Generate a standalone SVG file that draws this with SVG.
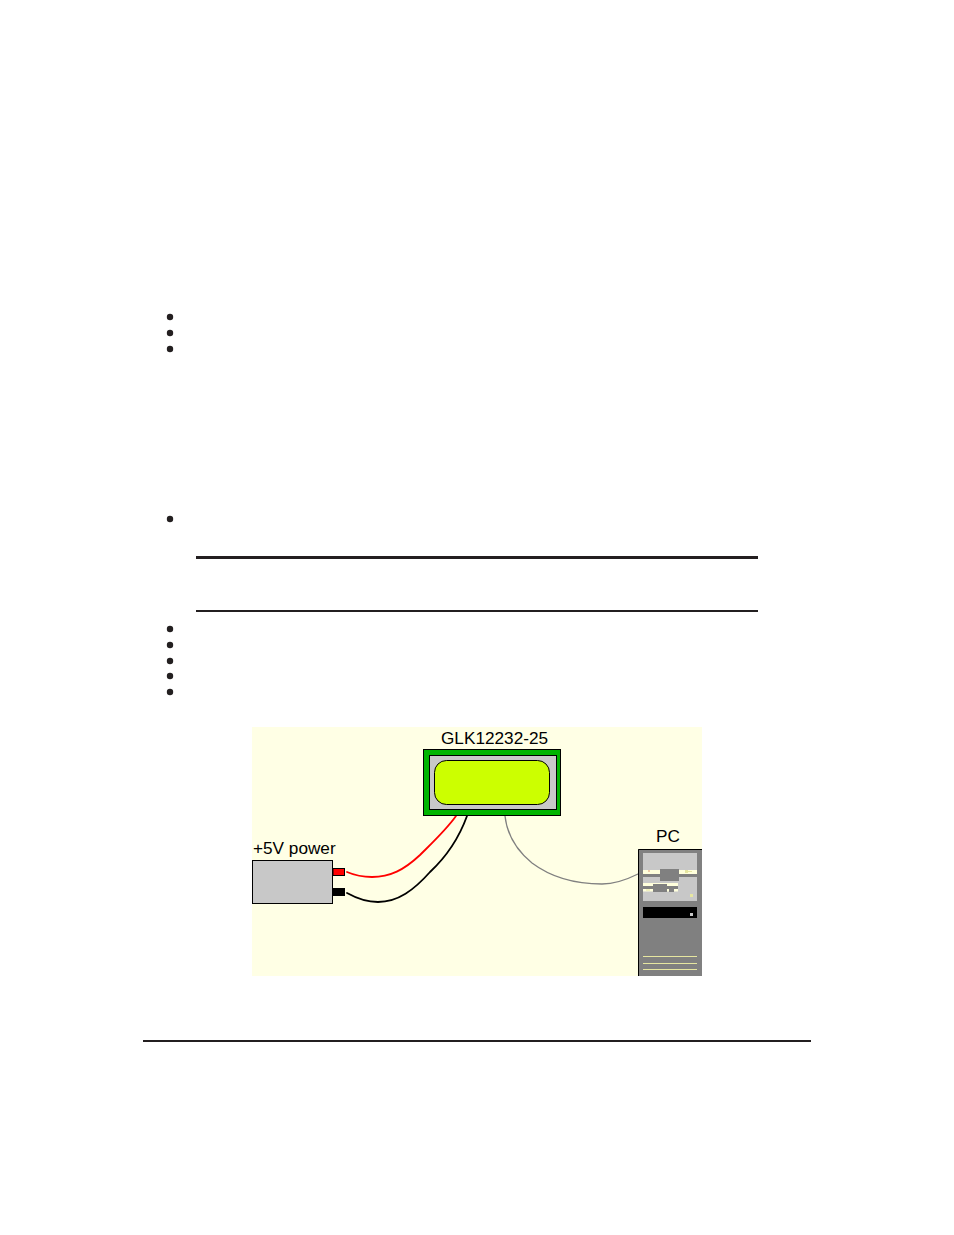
<svg xmlns="http://www.w3.org/2000/svg" width="954" height="1235" viewBox="0 0 954 1235">
<style>
.bullet{fill:#231f20}
.rule{stroke:#231f20;fill:none}
.label{font-family:"Liberation Sans",Arial,sans-serif;font-size:17.2px;fill:#000}
.wire{fill:none;stroke-linecap:round;stroke-linejoin:round}
.cream{fill:#ffffdc}
.dk{fill:#808080}
.mark{fill:#e6e6a0}
</style>
<rect width="954" height="1235" fill="#fff"/>
<g id="bullets">
<circle class="bullet" cx="170" cy="317" r="3.200"/>
<circle class="bullet" cx="170" cy="333" r="3.200"/>
<circle class="bullet" cx="170" cy="349" r="3.200"/>
<circle class="bullet" cx="170" cy="519" r="3.200"/>
<circle class="bullet" cx="170" cy="629" r="3.200"/>
<circle class="bullet" cx="170" cy="645" r="3.200"/>
<circle class="bullet" cx="170" cy="661" r="3.200"/>
<circle class="bullet" cx="170" cy="676" r="3.200"/>
<circle class="bullet" cx="170" cy="692" r="3.200"/>
</g>
<g id="rules">
<line class="rule" x1="196" y1="557.500" x2="758" y2="557.500" stroke-width="3"/>
<line class="rule" x1="196" y1="611" x2="758" y2="611" stroke-width="2"/>
<line class="rule" x1="143" y1="1041" x2="811" y2="1041" stroke-width="2"/>
</g>
<rect id="background" x="252" y="727" width="450" height="249" fill="#ffffe5"/>
<g id="connectors">
<path class="wire" stroke="#ff0000" stroke-width="1.800" d="M456 816C446 830 432 843 420 855C404 870 390 877 372 877C362 877 354 875 347 872"/>
<path class="wire" stroke="#000" stroke-width="1.800" d="M467 816C459 838 445 858 430 872C414 890 398 902 378 902C366 902 356 898 347 893"/>
<path class="wire" stroke="#808080" stroke-width="1.300" d="M505 816C507 834 516 850 532 863C552 878 578 884 602 884C616 884 628 879 638 874"/>
</g>
<g id="display">
<text class="label" x="441" y="744">GLK12232-25</text>
<rect x="423.500" y="749.500" width="137" height="66" fill="#00b400" stroke="#000"/>
<rect x="429.500" y="755.500" width="127" height="54" fill="#c8c8c8" stroke="#000"/>
<rect x="434.500" y="760.500" width="115" height="44" rx="12" fill="#ccff00" stroke="#000"/>
</g>
<g id="power">
<text class="label" x="253" y="854">+5V power</text>
<rect x="252.500" y="860.500" width="80" height="43" fill="#c8c8c8" stroke="#000"/>
<rect x="333" y="868.500" width="11.500" height="7" fill="#ff0000" stroke="#000"/>
<rect x="333" y="888" width="12" height="8" fill="#000"/>
</g>
<g id="pc">
<text class="label" x="656" y="842">PC</text>
<rect x="638" y="849" width="64" height="127" fill="#808080"/>
<path d="M638.500 976V849.500H702" fill="none" stroke="#000"/>
<rect x="643" y="853" width="54" height="48" fill="#c8c8c8"/>
<rect class="cream" x="643" y="870" width="54" height="4"/>
<rect class="dk" x="643" y="874" width="54" height="3"/>
<rect class="dk" x="660" y="869" width="19" height="12"/>
<rect x="648.500" y="870.500" width="1" height="1" fill="#c03010"/>
<rect class="mark" x="685" y="870" width="3" height="3"/>
<rect class="mark" x="687" y="871" width="5" height="1"/>
<rect class="cream" x="643" y="883" width="35" height="3"/>
<rect class="dk" x="643" y="886" width="35" height="3"/>
<rect class="cream" x="643" y="889" width="35" height="2.500"/>
<rect class="dk" x="653" y="884" width="14" height="8"/>
<rect class="dk" x="669" y="889" width="5" height="3"/>
<rect class="mark" x="646" y="889.500" width="4" height="1"/>
<rect class="mark" x="690" y="894" width="3" height="3"/>
<rect x="643" y="907" width="54" height="11" fill="#000"/>
<rect x="690" y="913" width="3" height="3" fill="#c8c8c8"/>
<rect class="mark" x="643" y="956" width="54" height="1"/>
<rect class="mark" x="643" y="963" width="54" height="1"/>
<rect class="mark" x="643" y="969" width="54" height="1"/>
</g>
</svg>
